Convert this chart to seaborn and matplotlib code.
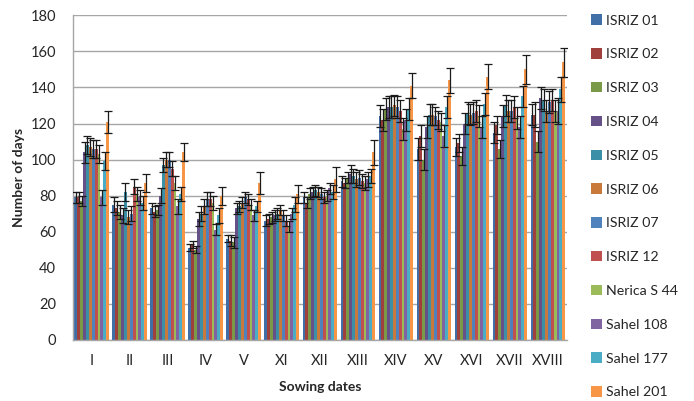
import numpy as np
import pandas as pd
import matplotlib
matplotlib.use("Agg")
import matplotlib.pyplot as plt
import seaborn as sns
from matplotlib.patches import Patch

dates = ["I", "II", "III", "IV", "V", "XI", "XII", "XIII", "XIV", "XV", "XVI", "XVII", "XVIII"]
varieties = ["ISRIZ 01", "ISRIZ 02", "ISRIZ 03", "ISRIZ 04", "ISRIZ 05", "ISRIZ 06",
             "ISRIZ 07", "ISRIZ 12", "Nerica S 44", "Sahel 108", "Sahel 177", "Sahel 201"]

isriz01 = [79, 75, 73, 51, 56, 66, 79, 88, 124, 106, 107, 115, 125]
isriz02 = [79, 73, 71, 53, 55, 67, 76, 87, 122, 113, 109, 119, 125]
isriz03 = [77, 71, 72, 50, 54, 68, 81, 90, 128, 100, 102, 106, 110]
isriz04 = [104, 69, 80, 67, 73, 69, 82, 92, 129, 118, 120, 124, 134]
isriz05 = [108, 82, 97, 70, 74, 70, 83, 91, 129, 125, 126, 130, 133]
isriz06 = [107, 68, 100, 74, 76, 72, 82, 89, 130, 125, 125, 127, 127]
isriz07 = [106, 70, 100, 78, 79, 69, 81, 90, 129, 124, 126, 127, 132]
isriz12 = [106, 85, 95, 78, 78, 66, 79, 88, 127, 122, 127, 129, 133]
nerica44 = [103, 81, 87, 76, 75, 63, 80, 87, 117, 121, 124, 123, 127]
sahel108 = [79, 79, 74, 61, 69, 70, 84, 89, 122, 113, 118, 118, 127]
sahel177 = [99, 76, 81, 69, 74, 75, 82, 91, 128, 129, 131, 135, 139]
sahel201 = [121, 87, 104, 80, 87, 81, 89, 104, 141, 144, 146, 150, 154]

err01 = [3, 4, 3, 2, 2, 3, 3, 3, 6, 6, 5, 6, 6]
err02 = [3, 4, 3, 2, 3, 3, 3, 3, 6, 6, 5, 5, 7]
err03 = [3, 4, 3, 2, 3, 3, 3, 3, 6, 6, 5, 5, 6]
err04 = [6, 4, 4, 4, 3, 3, 3, 5, 6, 6, 6, 6, 6]
err05 = [5, 5, 4, 4, 3, 3, 3, 4, 6, 6, 6, 6, 6]
err06 = [5, 4, 4, 4, 3, 3, 3, 4, 6, 6, 6, 6, 6]
err07 = [5, 4, 4, 4, 3, 3, 3, 4, 6, 5, 6, 6, 6]
err08 = [5, 4, 4, 4, 3, 3, 3, 4, 6, 5, 6, 6, 6]
err09 = [5, 4, 4, 4, 3, 3, 3, 4, 6, 5, 6, 6, 6]
err10 = [4, 4, 4, 3, 3, 3, 3, 4, 6, 6, 6, 6, 7]
err11 = [5, 4, 4, 4, 3, 4, 4, 4, 6, 6, 6, 6, 7]
err12 = [6, 5, 5, 5, 6, 5, 7, 7, 7, 7, 7, 8, 8]

values = [isriz01, isriz02, isriz03, isriz04, isriz05, isriz06,
          isriz07, isriz12, nerica44, sahel108, sahel177, sahel201]
errors = [err01, err02, err03, err04, err05, err06,
          err07, err08, err09, err10, err11, err12]

colors = ["#3F6FA6", "#A0403D", "#7A9A48", "#655087", "#3B90A8", "#C97A3A",
          "#4F81BD", "#C0504D", "#9BBB59", "#8064A2", "#4BACC6", "#F79646"]

rows = []
for v, vals in zip(varieties, values):
    for d, y in zip(dates, vals):
        rows.append({"date": d, "variety": v, "days": y})
df = pd.DataFrame(rows)

sns.set_style("white")
plt.rcParams["font.family"] = ["Lato", "DejaVu Sans"]

fig = plt.figure(figsize=(6.94, 4.01), dpi=100)
ax = fig.add_axes([0.1048, 0.153, 0.712, 0.8085])

sns.barplot(data=df, x="date", y="days", hue="variety", order=dates,
            hue_order=varieties, palette=colors, width=0.91, saturation=1,
            errorbar=None, ax=ax, legend=False, linewidth=0)

for cont, errs in zip(ax.containers, errors):
    xs = [p.get_x() + p.get_width() / 2 for p in cont.patches]
    ys = [p.get_height() for p in cont.patches]
    ax.errorbar(xs, ys, yerr=errs, fmt="none", ecolor="#1a1a1a",
                elinewidth=0.9, capsize=2.6, capthick=0.9, zorder=3)

ax.set_ylim(0, 180)
ax.set_yticks(np.arange(0, 181, 20))
ax.set_xlim(-0.5, len(dates) - 0.5)
ax.yaxis.grid(True, color="#A6A6A6", linewidth=1.0)
ax.set_axisbelow(True)
for s in ["top", "right"]:
    ax.spines[s].set_visible(False)
for s in ["left", "bottom"]:
    ax.spines[s].set_color("#A6A6A6")
    ax.spines[s].set_linewidth(1.0)
ax.tick_params(axis="both", length=0, labelsize=10.5, colors="#262626")
ax.tick_params(axis="x", pad=10)
ax.tick_params(axis="y", pad=12)
ax.set_xlabel("Sowing dates", fontsize=10, fontweight="bold", labelpad=10)
ax.set_ylabel("Number of days", fontsize=10, fontweight="bold", labelpad=4)

handles = [Patch(facecolor=c, edgecolor="none") for c in colors]
fig.legend(handles, varieties, loc="upper left", bbox_to_anchor=(0.852, 0.964),
           frameon=False, fontsize=10.2, handlelength=0.75, handleheight=0.75,
           handletextpad=0.3, labelspacing=1.53, borderaxespad=0.0,
           borderpad=0.0)

fig.savefig("out.png", dpi=100)
